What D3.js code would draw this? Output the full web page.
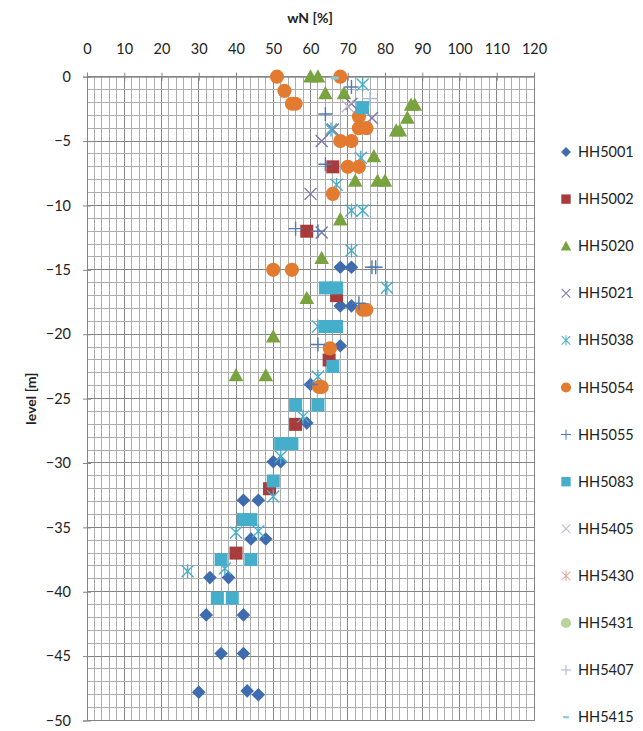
<!DOCTYPE html>
<html>
<head>
<meta charset="utf-8">
<script src="https://cdn.jsdelivr.net/npm/d3@7"></script>
<style>
  html, body { margin: 0; padding: 0; background: #fff; }
  svg { display: block; }
  text { font-family: Lato, "Open Sans", "Liberation Sans", sans-serif; fill: #222; }
</style>
</head>
<body>
<svg id="chart" width="643" height="731"></svg>
<script>
// ---------- data (wN [%], level [m]) ----------
const seriesNames = ["HH5001","HH5002","HH5020","HH5021","HH5038","HH5054","HH5055","HH5083","HH5405","HH5430","HH5431","HH5407","HH5415"];
const xTicks = [0,10,20,30,40,50,60,70,80,90,100,110,120];
const yTicks = [0,-5,-10,-15,-20,-25,-30,-35,-40,-45,-50];

const HH5001 = [[68,-14.8],[71,-14.8],[68,-17.8],[71,-17.8],[68,-20.9],[60,-23.9],[59,-26.9],[50,-29.9],[52,-29.9],
  [42,-32.9],[46,-32.9],[44,-35.9],[48,-35.9],[33,-38.9],[38,-38.9],[32,-41.8],[42,-41.8],[36,-44.8],[42,-44.8],
  [30,-47.8],[43,-47.7],[46,-48]];
const HH5002 = [[66,-7],[59,-12],[67,-17],[65,-22],[56,-27],[49,-32],[40,-37]];
const HH5020 = [[60,0],[62,0],[64,-1.3],[69,-1.3],[87,-2.2],[88,-2.2],[86,-3.2],[83,-4.2],[84,-4.2],[77,-6.2],
  [72,-8.1],[78,-8.1],[80,-8.1],[68,-11.1],[63,-14.1],[59,-17.2],[50,-20.2],[40,-23.2],[48,-23.2]];
const HH5021 = [[71,-2.1],[76.5,-3.2],[66,-4.1],[63,-5],[60,-9.1],[63,-12.1]];
const HH5038 = [[74,-0.6],[65.5,-4.1],[73.5,-6.3],[67,-8.4],[71,-10.4],[74,-10.4],[71,-13.5],[80.5,-16.4],[62,-19.4],
  [62,-23.3],[58,-26.4],[52,-29.5],[50,-32.6],[40,-35.4],[46,-35.3],[27,-38.4],[37,-38.2]];
const HH5054 = [[51,0],[68,0],[53,-1.1],[55,-2.1],[56,-2.1],[73,-3.1],[73,-4],[75,-4],[68,-5],[71,-5],[70,-7],[73,-7],
  [66,-9.1],[50,-15],[55,-15],[74,-18.1],[75,-18.1],[65.2,-21.1],[62.3,-24.1],[63,-24.1]];
const HH5055 = [[71,-0.8],[64,-2.9],[64,-6.8],[62,-12],[56,-11.8],[76.5,-14.8],[77.5,-14.8],[73,-17.6],[62,-20.8],[60,-23.9]];
const HH5083 = [[74,-2.4],[64,-16.4],[67,-16.4],[64,-19.4],[67,-19.4],[66,-22.5],[56,-25.5],[62,-25.5],[52,-28.5],[55,-28.5],
  [50,-31.4],[42,-34.4],[44,-34.4],[36,-37.5],[44,-37.5],[35,-40.5],[39,-40.5]];
const HH5405 = [[70,-2.3]];
const HH5430 = [];
const HH5431 = [];
const HH5407 = [[76,-1.7]];
const HH5415 = [[66.5,-0.1]];

const seriesData = [HH5001,HH5002,HH5020,HH5021,HH5038,HH5054,HH5055,HH5083,HH5405,HH5430,HH5431,HH5407,HH5415];
const seriesColors = ["#3e6cae","#a83b3b","#78a33f","#7f73a9","#4badc8","#e27b30","#5079b8","#44aecb","#bdb6d3","#e6a49c","#b7d49d","#a3b5d6","#86c9dc"];
const seriesShapes = ["diamond","square","triangle","x","asterisk","circle","plus","square","x","asterisk","circle","plus","dash"];

// ---------- layout ----------
const svg = d3.select("#chart");
const x = d3.scaleLinear().domain([0,120]).range([87,534]);
const y = d3.scaleLinear().domain([-50,0]).range([720.5,76.7]);

// gridlines
const g = svg.append("g");
g.selectAll("line.vmin").data(d3.range(0,121,2)).join("line")
  .attr("x1", d => x(d)).attr("x2", d => x(d)).attr("y1", y(0)).attr("y2", y(-50))
  .attr("stroke", d => d % 10 === 0 ? "#848484" : "#adadad").attr("stroke-width", 1).attr("shape-rendering","crispEdges");
g.selectAll("line.hmin").data(d3.range(-50,1,1)).join("line")
  .attr("y1", d => y(d)).attr("y2", d => y(d)).attr("x1", x(0)).attr("x2", x(120))
  .attr("stroke", d => d % 5 === 0 ? "#848484" : "#adadad").attr("stroke-width", 1).attr("shape-rendering","crispEdges");

// top axis (labels placed high)
const topAxis = svg.append("g").attr("transform", `translate(0,${y(0)})`)
  .call(d3.axisTop(x).tickValues(xTicks).tickSize(4).tickPadding(19).tickFormat(d3.format("d")));
topAxis.select(".domain").attr("stroke","#848484");
topAxis.selectAll(".tick line").attr("stroke","#848484").attr("y2", 4).attr("y1",-4);
topAxis.selectAll("text").attr("font-size", 14.5).style("fill","#222");

// left axis
const leftAxis = svg.append("g").attr("transform", `translate(${x(0)},0)`)
  .call(d3.axisLeft(y).tickValues(yTicks).tickSize(4).tickPadding(12).tickFormat(d3.format("d")));
leftAxis.select(".domain").attr("stroke","#848484");
leftAxis.selectAll(".tick line").attr("stroke","#848484").attr("x2", 4).attr("x1",-4);
leftAxis.selectAll("text").attr("font-size", 14.5).style("fill","#222");

// titles
svg.append("text").attr("x", 310).attr("y", 23).attr("text-anchor","middle")
  .attr("font-size", 14).attr("font-weight","bold").text("wN [%]");
svg.append("text").attr("transform", `translate(36,${(y(0)+y(-50))/2}) rotate(-90)`)
  .attr("text-anchor","middle").attr("font-size", 14).attr("font-weight","bold").text("level [m]");

// ---------- markers ----------
function drawMarker(sel, shape, color) {
  if (shape === "diamond") {
    sel.append("path").attr("d","M0,-6.8L6.8,0L0,6.8L-6.8,0Z").attr("fill", color);
  } else if (shape === "square") {
    sel.append("rect").attr("x",-6.5).attr("y",-6.5).attr("width",13).attr("height",13).attr("fill", color);
  } else if (shape === "triangle") {
    sel.append("path").attr("d","M0,-7.5L7.3,5.8L-7.3,5.8Z").attr("fill", color);
  } else if (shape === "circle") {
    sel.append("circle").attr("r", 7.1).attr("fill", color);
  } else if (shape === "x") {
    sel.append("path").attr("d","M-6,-6L6,6M-6,6L6,-6").attr("stroke", color).attr("stroke-width",1.4).attr("fill","none");
  } else if (shape === "asterisk") {
    sel.append("path").attr("d","M-6,-6L6,6M-6,6L6,-6M0,-7L0,7").attr("stroke", color).attr("stroke-width",1.4).attr("fill","none");
  } else if (shape === "plus") {
    sel.append("path").attr("d","M-7,0L7,0M0,-7L0,7").attr("stroke", color).attr("stroke-width",1.4).attr("fill","none");
  } else if (shape === "dash") {
    sel.append("rect").attr("x",-4).attr("y",-1.5).attr("width",8).attr("height",3).attr("fill", color);
  }
}

const plot = svg.append("g");
seriesNames.forEach((name, i) => {
  const grp = plot.append("g").attr("class","series");
  grp.selectAll("g.pt").data(seriesData[i]).join("g").attr("class","pt")
    .attr("transform", d => `translate(${x(d[0])},${y(d[1])})`)
    .each(function() { drawMarker(d3.select(this), seriesShapes[i], seriesColors[i]); });
});

// ---------- legend ----------
const legend = svg.append("g");
seriesNames.forEach((name, i) => {
  const ly = 152 + i * 47.1;
  const m = legend.append("g").attr("transform", `translate(566,${ly}) scale(0.72)`);
  drawMarker(m, seriesShapes[i], seriesColors[i]);
  legend.append("text").attr("x", 578).attr("y", ly + 5).attr("font-size", 14.5).text(name);
});
</script>
</body>
</html>
